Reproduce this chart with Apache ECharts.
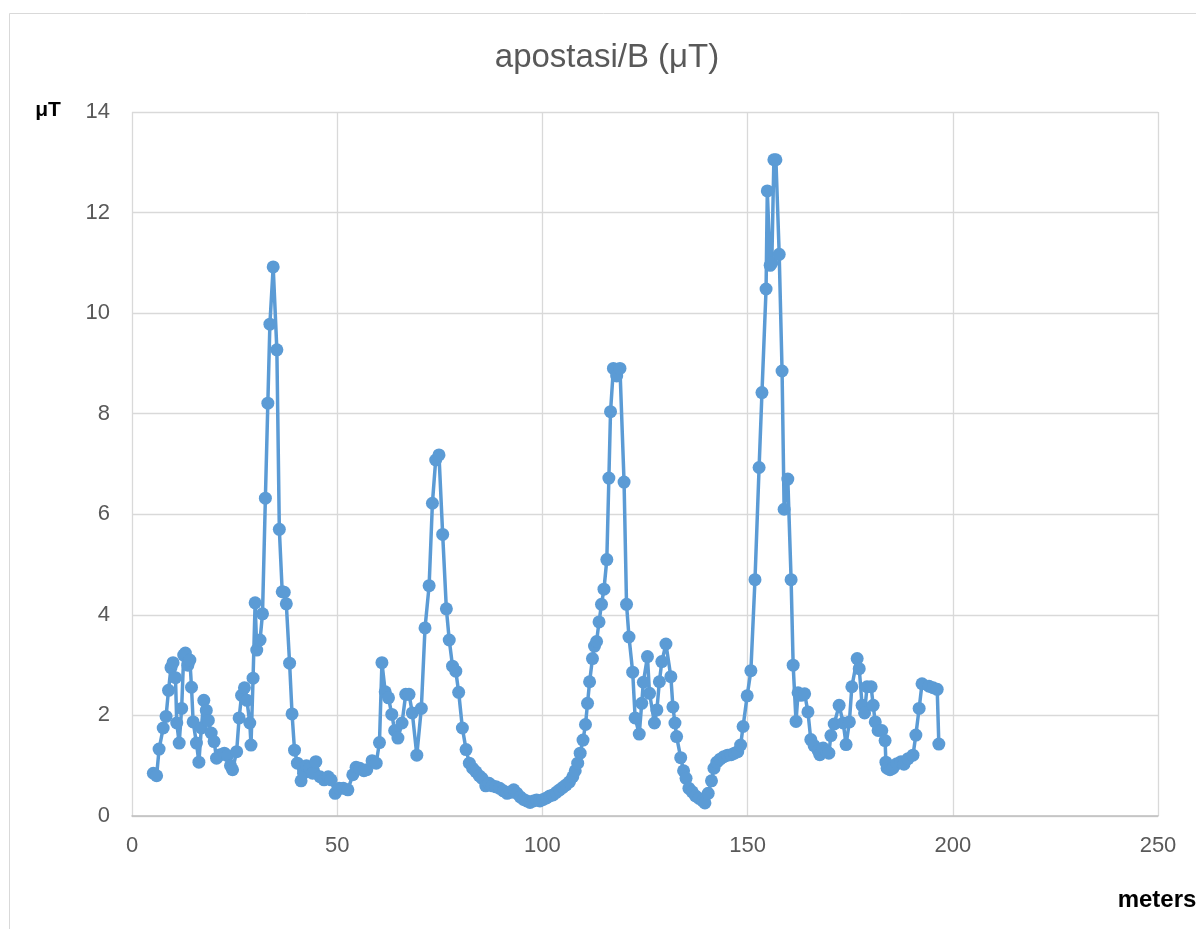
<!DOCTYPE html>
<html>
<head>
<meta charset="utf-8">
<script src="https://cdn.jsdelivr.net/npm/echarts@6/dist/echarts.min.js"></script>
<style>
html,body{margin:0;padding:0;background:#fff;}
#chart{width:1196px;height:929px;}
</style>
</head>
<body>
<div id="chart"></div>
<script>
const titleText = "apostasi/B (μT)";
const yAxisName = "μT";
const xAxisName = "meters";
const xTicks = [0, 50, 100, 150, 200, 250];
const yTicks = [0, 2, 4, 6, 8, 10, 12, 14];

const meters = [
5.2,6.0,6.6,7.6,8.3,8.9,9.5,10.0,10.6,10.9,11.5,12.1,12.6,13.0,13.6,14.1,14.5,14.9,15.7,16.3,
16.9,17.5,18.1,18.6,19.3,20.0,20.6,21.5,22.5,23.3,24.0,24.5,25.5,26.1,26.7,27.4,28.0,28.7,29.0,29.5,
30.0,30.4,31.2,31.8,32.5,33.1,33.6,34.4,35.3,35.9,36.6,37.1,37.6,38.4,39.0,39.6,40.3,41.2,41.8,42.5,
43.3,44.0,44.8,45.8,46.8,47.8,48.5,49.5,50.5,51.5,52.6,53.8,54.6,55.5,56.5,57.2,58.5,59.5,60.3,60.9,
61.7,62.5,63.3,64.0,64.8,65.8,66.7,67.5,68.3,69.4,70.5,71.4,72.4,73.2,74.0,74.8,75.7,76.6,77.3,78.1,
78.9,79.6,80.5,81.4,82.2,83.0,83.8,84.6,85.3,86.2,87.0,87.8,88.7,89.6,90.5,91.4,92.2,93.0,93.8,94.6,
95.4,96.2,97.0,97.8,98.6,99.4,100.2,101.0,101.8,102.6,103.4,104.2,105.0,105.8,106.6,107.4,108.0,108.6,109.2,109.9,
110.5,111.0,111.5,112.2,112.7,113.2,113.8,114.4,115.0,115.7,116.2,116.6,117.3,118.1,118.9,119.9,120.5,121.1,122.0,122.6,
123.6,124.2,124.6,125.6,126.1,127.3,127.9,128.5,129.1,130.1,131.3,131.8,132.3,132.7,133.7,134.4,135.0,135.7,136.5,137.3,
138.2,139.1,139.6,140.4,141.2,141.8,142.5,143.3,144.2,145.1,146.0,146.8,147.6,148.3,148.9,149.9,150.8,151.8,152.8,153.5,
154.5,154.8,155.5,155.9,156.4,156.9,157.7,158.4,158.9,159.8,160.6,161.1,161.8,162.3,163.0,163.9,164.7,165.4,166.2,167.2,
167.6,168.4,169.3,169.8,170.3,171.1,172.3,173.3,174.0,174.8,175.4,176.7,177.2,177.9,178.5,179.1,180.1,180.6,181.1,181.8,
182.7,183.5,183.7,184.0,184.7,185.4,186.4,187.4,188.1,189.1,190.3,191.0,191.8,192.5,194.2,195.2,196.2,196.6
];
const microTesla = [
0.85,0.80,1.33,1.75,1.98,2.50,2.95,3.05,2.75,1.85,1.45,2.14,3.20,3.24,3.00,3.10,2.56,1.87,1.45,1.07,
1.75,2.30,2.10,1.90,1.65,1.48,1.15,1.22,1.25,1.20,1.00,0.92,1.28,1.95,2.40,2.55,2.30,1.85,1.41,2.74,
4.24,3.30,3.50,4.02,6.32,8.21,9.78,10.92,9.27,5.70,4.46,4.45,4.22,3.04,2.03,1.31,1.05,0.70,0.85,1.00,
0.95,0.85,1.08,0.78,0.72,0.78,0.72,0.45,0.55,0.55,0.52,0.82,0.97,0.95,0.90,0.92,1.10,1.05,1.46,3.05,
2.47,2.35,2.02,1.70,1.55,1.85,2.42,2.42,2.05,1.21,2.14,3.74,4.58,6.22,7.08,7.18,5.60,4.12,3.50,2.98,
2.88,2.46,1.75,1.32,1.05,0.95,0.88,0.80,0.75,0.60,0.65,0.60,0.58,0.55,0.50,0.45,0.47,0.52,0.45,0.38,
0.33,0.30,0.27,0.30,0.32,0.30,0.33,0.36,0.40,0.42,0.47,0.52,0.57,0.62,0.68,0.78,0.90,1.05,1.25,1.51,
1.82,2.24,2.67,3.13,3.38,3.47,3.86,4.21,4.51,5.10,6.72,8.04,8.90,8.75,8.90,6.64,4.21,3.56,2.86,1.95,
1.63,2.24,2.66,3.17,2.44,1.85,2.11,2.67,3.07,3.42,2.77,2.17,1.85,1.58,1.16,0.90,0.75,0.55,0.48,0.40,
0.35,0.30,0.26,0.45,0.70,0.95,1.07,1.13,1.18,1.21,1.22,1.25,1.28,1.41,1.78,2.39,2.89,4.70,6.93,8.42,
10.48,12.43,10.95,11.00,13.05,13.05,11.17,8.85,6.10,6.70,4.70,3.00,1.88,2.45,2.40,2.43,2.07,1.52,1.40,1.30,
1.22,1.35,1.28,1.25,1.60,1.83,2.20,1.85,1.42,1.87,2.57,3.13,2.93,2.20,2.05,2.57,2.57,2.20,1.87,1.70,
1.70,1.50,1.07,0.95,0.92,0.95,1.04,1.08,1.03,1.14,1.21,1.61,2.14,2.63,2.58,2.55,2.52,1.43
];

const seriesData = meters.map((x, i) => [x, microTesla[i]]);
const FONT = "'Liberation Sans', sans-serif";

const chart = echarts.init(document.getElementById('chart'), null, {renderer: 'canvas'});
chart.setOption({
  animation: false,
  backgroundColor: '#ffffff',
  grid: {left: 132, right: 38, top: 112, bottom: 113, containLabel: false},
  graphic: [
    {type: 'rect', shape: {x: 9.5, y: 13.5, width: 1300, height: 1000},
     style: {fill: 'none', stroke: '#d9d9d9', lineWidth: 1}, silent: true},
    {type: 'text', x: 607, y: 58,
     style: {text: titleText, fill: '#595959', font: "33px " + FONT, textAlign: 'center', textVerticalAlign: 'middle'}},
    {type: 'text', x: 48, y: 110,
     style: {text: yAxisName, fill: '#000000', font: "bold 21px " + FONT, textAlign: 'center', textVerticalAlign: 'middle'}},
    {type: 'text', x: 1157, y: 900,
     style: {text: xAxisName, fill: '#000000', font: "bold 24px " + FONT, textAlign: 'center', textVerticalAlign: 'middle'}}
  ],
  xAxis: {
    type: 'value', min: xTicks[0], max: xTicks[xTicks.length - 1], interval: 50,
    axisLine: {show: true, onZero: false, lineStyle: {color: '#bfbfbf', width: 1.5}},
    axisTick: {show: false},
    splitLine: {show: true, lineStyle: {color: '#d9d9d9', width: 1.3}},
    axisLabel: {color: '#595959', fontSize: 22, fontFamily: FONT, margin: 19}
  },
  yAxis: {
    type: 'value', min: yTicks[0], max: yTicks[yTicks.length - 1], interval: 2,
    axisLine: {show: false},
    axisTick: {show: false},
    splitLine: {show: true, lineStyle: {color: '#d9d9d9', width: 1.3}},
    axisLabel: {color: '#595959', fontSize: 22, fontFamily: FONT, margin: 22}
  },
  series: [{
    type: 'line',
    data: seriesData,
    symbol: 'circle',
    symbolSize: 13,
    showAllSymbol: true,
    lineStyle: {color: '#5b9bd5', width: 3.5},
    itemStyle: {color: '#5b9bd5', borderColor: '#5b9bd5', borderWidth: 0}
  }]
});
</script>
</body>
</html>
